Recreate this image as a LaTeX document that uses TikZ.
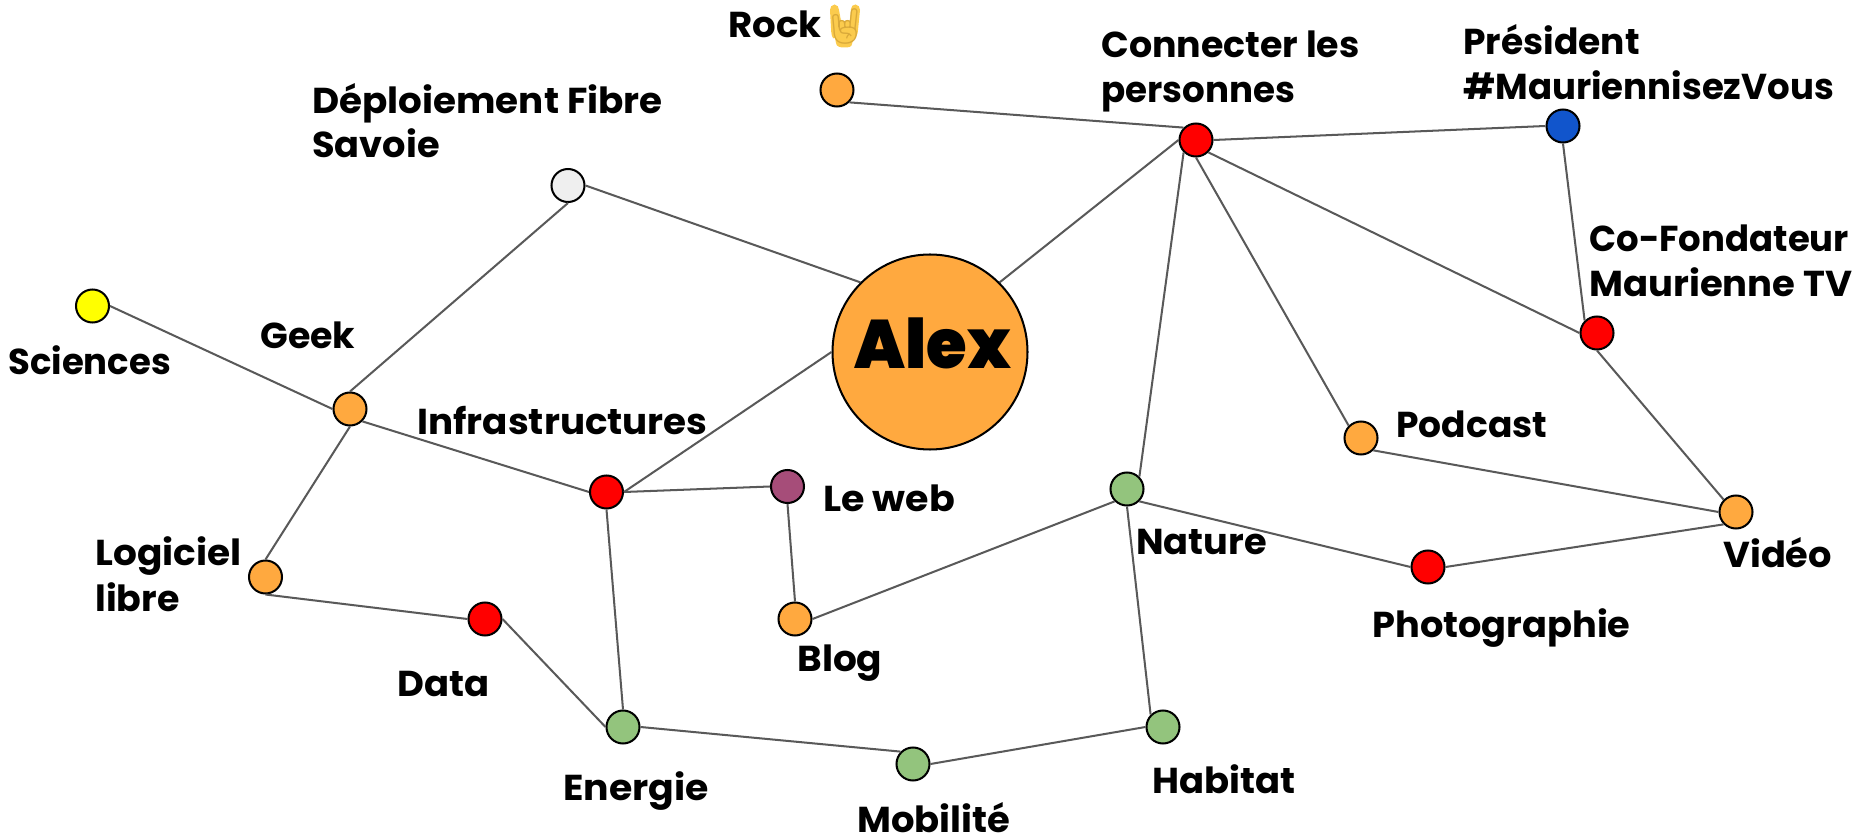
\documentclass[tikz,border=0pt]{standalone}
\usepackage{graphicx}
\usepackage{fontspec}
\setmainfont{Poppins}[BoldFont={Poppins Bold}]
\newfontfamily\alexfont{Poppins Black}
\newfontfamily\emojifont{Noto Emoji}
\newcommand{\xfit}[2]{\scalebox{#1}[1]{#2}}
\definecolor{orangeN}{HTML}{FFA93F}
\definecolor{redN}{HTML}{FF0000}
\definecolor{greenN}{HTML}{93C47D}
\definecolor{blueN}{HTML}{1155CC}
\definecolor{yellowN}{HTML}{FFFF00}
\definecolor{greyN}{HTML}{EFEFEF}
\definecolor{purpleN}{HTML}{A64D79}
\definecolor{edgeC}{HTML}{595959}
\definecolor{emojiC}{HTML}{FBCB4D}
\definecolor{emojiL}{HTML}{D9A93A}
\newlength\pxu \setlength\pxu{0.02cm}
\tikzset{
  dot/.style={circle,draw=black,line width=1.15pt,minimum size=33\pxu,inner sep=0pt},
  lab/.style={anchor=base west,inner sep=0pt,font=\fontsize{20.5}{25.6}\selectfont\bfseries,align=left},
  edge/.style={draw=edgeC,line width=1.15pt},
}
\begin{document}
\begin{tikzpicture}[x=0.02cm,y=-0.02cm]
\useasboundingbox (0,0) rectangle (1860,837);
% nodes
\node[circle,draw=black,line width=1.15pt,fill=orangeN,minimum size=195\pxu,inner sep=0pt] (alex) at (930,352) {};
\node[anchor=center,inner sep=0pt,font=\fontsize{39}{40}\alexfont] (alexT) at (933,343) {\xfit{0.96}{Alex}};
\node[dot,fill=orangeN] (rock) at (837,90) {};
\node[dot,fill=redN] (conn) at (1196,140) {};
\node[dot,fill=blueN] (pres) at (1563,126) {};
\node[dot,fill=redN] (cofo) at (1597,333) {};
\node[dot,fill=orangeN] (podc) at (1361,438) {};
\node[dot,fill=orangeN] (vide) at (1736,512) {};
\node[dot,fill=redN] (phot) at (1428,567) {};
\node[dot,fill=greenN] (natu) at (1127,489) {};
\node[dot,fill=greenN] (habi) at (1163,727) {};
\node[dot,fill=greenN] (mobi) at (913,764) {};
\node[dot,fill=greenN] (ener) at (623,727) {};
\node[dot,fill=redN] (data) at (485,619) {};
\node[dot,fill=orangeN] (logi) at (265.5,577) {};
\node[dot,fill=orangeN] (geek) at (350,409) {};
\node[dot,fill=yellowN] (scie) at (92.5,306) {};
\node[dot,fill=greyN] (depl) at (568,185.5) {};
\node[dot,fill=redN] (infr) at (606.5,492) {};
\node[dot,fill=purpleN] (lweb) at (787.5,486.5) {};
\node[dot,fill=orangeN] (blog) at (795,619) {};
% connectors, between the eight connection sites of the circles
\foreach \a/\b in {rock.-45/conn.135,conn.0/pres.180,conn.180/alex.45,conn.-135/natu.45,conn.-90/podc.135,conn.-45/cofo.180,pres.-90/cofo.135,cofo.-90/vide.135,podc.-45/vide.180,vide.-135/phot.0,phot.180/natu.-45,natu.-135/blog.0,natu.-90/habi.135,habi.180/mobi.0,mobi.135/ener.0,ener.180/data.0,ener.90/infr.-90,data.180/logi.-90,logi.90/geek.-90,geek.180/scie.0,geek.90/depl.-90,geek.-45/infr.180,infr.0/lweb.180,infr.0/alex.180,lweb.-90/blog.90,depl.0/alex.135}
  \draw[edge] (\a) -- (\b);
% labels
\node[lab] (tRock) at (728,38) {\xfit{1.03}{Rock}};
\fill[emojiC] (830,10) to[out=90,in=180] (834.5,4.5) to[out=0,in=90] (839,10) -- (841,21) -- (850,21) -- (851,9) to[out=90,in=180] (855.5,4.5) to[out=0,in=90] (860,10) -- (858,30) to[out=-90,in=45] (853,40) -- (852,44) to[out=-90,in=0] (844,47.5) to[out=180,in=-90] (836,43) -- (835,38) to[out=-135,in=-90] (831,28) -- cycle;
\node[anchor=center,inner sep=0pt,font=\fontsize{20}{21}\emojifont,text=emojiL] (tEmoji) at (845,26) {🤘};
\node[lab] (tConn) at (1101,58) {\xfit{1.01}{Connecter les}};
\node[lab] (tConn2) at (1101,103) {\xfit{0.99}{personnes}};
\node[lab] (tPres) at (1463,55) {Président};
\node[lab] (tPres2) at (1463,100) {\xfit{0.987}{\#MauriennisezVous}};
\node[lab] (tDepl) at (312,114) {\xfit{1.035}{Déploiement Fibre}};
\node[lab] (tDepl2) at (312,158) {\xfit{1.02}{Savoie}};
\node[lab] (tCofo) at (1589,252) {\xfit{0.985}{Co-Fondateur}};
\node[lab] (tCofo2) at (1589,297) {\xfit{1.027}{Maurienne TV}};
\node[lab] (tGeek) at (260,349) {\xfit{1.01}{Geek}};
\node[lab] (tScie) at (8,375) {\xfit{0.985}{Sciences}};
\node[lab] (tInfr) at (417,435) {\xfit{1.035}{Infrastructures}};
\node[lab] (tPodc) at (1396,438) {Podcast};
\node[lab] (tLweb) at (823,512) {\xfit{1.055}{Le web}};
\node[lab] (tNatu) at (1136,555) {\xfit{1.02}{Nature}};
\node[lab] (tVide) at (1723,568) {\xfit{1.02}{Vidéo}};
\node[lab] (tLogi) at (95,566) {\xfit{1.04}{Logiciel}};
\node[lab] (tLogi2) at (95,612) {\xfit{1.01}{libre}};
\node[lab] (tPhot) at (1372,638) {\xfit{1.02}{Photographie}};
\node[lab] (tBlog) at (797,671) {\xfit{1.04}{Blog}};
\node[lab] (tData) at (397,696) {\xfit{1.025}{Data}};
\node[lab] (tEner) at (563,800) {\xfit{1.05}{Energie}};
\node[lab] (tHabi) at (1152,793) {\xfit{1.025}{Habitat}};
\node[lab] (tMobi) at (857,832) {\xfit{1.025}{Mobilité}};
\end{tikzpicture}
\end{document}
